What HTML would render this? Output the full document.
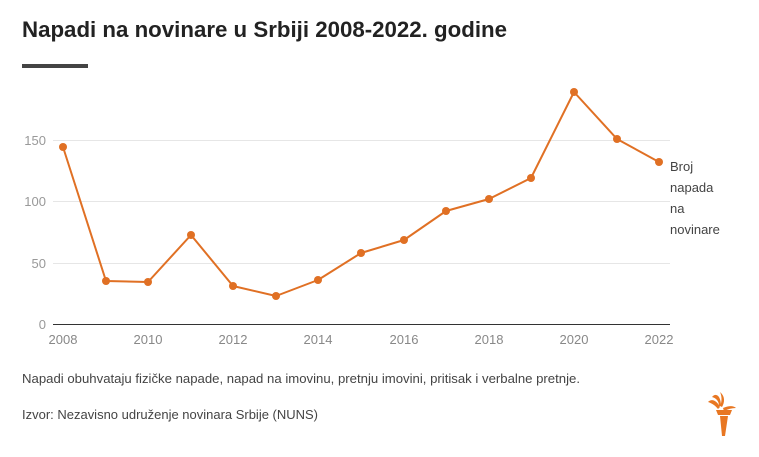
<!DOCTYPE html>
<html><head><meta charset="utf-8"><style>
html,body{margin:0;padding:0;background:#fff;}
svg{display:block;font-family:"Liberation Sans",sans-serif;}
</style></head><body>
<svg width="759" height="457" viewBox="0 0 759 457" xmlns="http://www.w3.org/2000/svg">
<text x="22" y="37" font-size="22" font-weight="bold" fill="#222" textLength="485" lengthAdjust="spacingAndGlyphs">Napadi na novinare u Srbiji 2008-2022. godine</text>
<rect x="22" y="64" width="66" height="4" fill="#444"/>
<g stroke="#e6e6e6" stroke-width="1">
<line x1="53" y1="140.5" x2="670" y2="140.5"/>
<line x1="53" y1="201.5" x2="670" y2="201.5"/>
<line x1="53" y1="263.5" x2="670" y2="263.5"/>
</g>
<line x1="53" y1="324.5" x2="670" y2="324.5" stroke="#333" stroke-width="1"/>
<g font-size="13" fill="#999" text-anchor="end">
<text x="46" y="145">150</text>
<text x="46" y="206">100</text>
<text x="46" y="268">50</text>
<text x="46" y="329">0</text>
</g>
<g font-size="13" fill="#888" text-anchor="middle">
<text x="63" y="344">2008</text>
<text x="148" y="344">2010</text>
<text x="233" y="344">2012</text>
<text x="318" y="344">2014</text>
<text x="404" y="344">2016</text>
<text x="489" y="344">2018</text>
<text x="574" y="344">2020</text>
<text x="659" y="344">2022</text>
</g>
<polyline fill="none" stroke="#e07024" stroke-width="2" stroke-linejoin="round" points="63,147 106,281 148,282 191,235 233,286 276,296 318,280 361,253 404,240 446,211 489,199 531,178 574,92 617,139 659,162"/>
<g fill="#e07024">
<circle cx="63" cy="147" r="4"/><circle cx="106" cy="281" r="4"/><circle cx="148" cy="282" r="4"/><circle cx="191" cy="235" r="4"/><circle cx="233" cy="286" r="4"/><circle cx="276" cy="296" r="4"/><circle cx="318" cy="280" r="4"/><circle cx="361" cy="253" r="4"/><circle cx="404" cy="240" r="4"/><circle cx="446" cy="211" r="4"/><circle cx="489" cy="199" r="4"/><circle cx="531" cy="178" r="4"/><circle cx="574" cy="92" r="4"/><circle cx="617" cy="139" r="4"/><circle cx="659" cy="162" r="4"/>
</g>
<g font-size="13" fill="#444">
<text x="670" y="171">Broj</text>
<text x="670" y="192">napada</text>
<text x="670" y="213">na</text>
<text x="670" y="234">novinare</text>
</g>
<text x="22" y="383" font-size="13" fill="#444" textLength="558" lengthAdjust="spacingAndGlyphs">Napadi obuhvataju fizičke napade, napad na imovinu, pretnju imovini, pritisak i verbalne pretnje.</text>
<text x="22" y="419" font-size="13" fill="#444" textLength="296" lengthAdjust="spacingAndGlyphs">Izvor: Nezavisno udruženje novinara Srbije (NUNS)</text>
<g fill="#e87722">
<path d="M708,402 C712,398 717,401 720,407 L718,409 C715,405 711,403 708,402Z"/>
<path d="M712,397 C716,392 721,396 721,406 L719,406 C719,401 716,398 712,397Z"/>
<path d="M720,392 C725,396 725,402 722,407 L720,406 C722,402 722,396 720,392Z"/>
<path d="M723,408 C728,406 733,405 736,408 C732,408 728,409 724,411Z"/>
<path d="M716,410 L732,410 L730,415 L718,415Z"/>
<path d="M720,416 L728,416 L725,436 L722,436Z"/>
</g>
</svg>
</body></html>
